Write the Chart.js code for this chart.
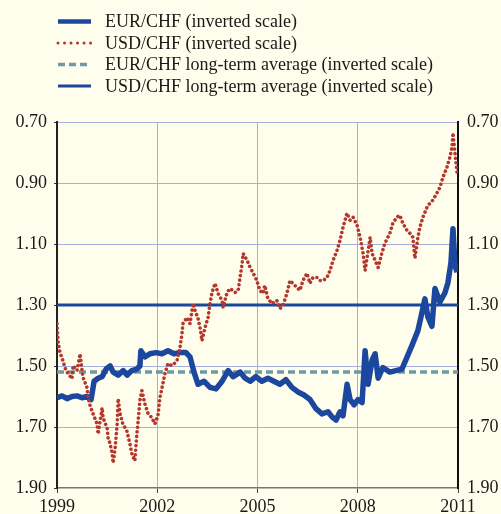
<!DOCTYPE html>
<html>
<head>
<meta charset="utf-8">
<script src="https://cdn.jsdelivr.net/npm/chart.js@4.4.1/dist/chart.umd.min.js"></script>
<style>
  html, body { margin: 0; padding: 0; background: #fffdeb; }
  canvas { display: block; }
</style>
</head>
<body>
<canvas id="fxChart" width="501" height="514"></canvas>
<script>
// EUR/CHF (decimal years)
const eurYears = [
  1999.00, 1999.15, 1999.30, 1999.45, 1999.60, 1999.75, 1999.90,
  2000.02, 2000.11, 2000.23, 2000.35, 2000.47, 2000.59, 2000.68, 2000.83, 2000.98,
  2001.10, 2001.24, 2001.39, 2001.48, 2001.51, 2001.63, 2001.78, 2001.96,
  2002.14, 2002.32, 2002.50, 2002.68, 2002.86, 2002.98,
  2003.10, 2003.22, 2003.40, 2003.58, 2003.76, 2003.94,
  2004.12, 2004.27, 2004.48, 2004.63, 2004.78, 2004.95,
  2005.13, 2005.31, 2005.49, 2005.67, 2005.85,
  2006.03, 2006.21, 2006.39, 2006.57, 2006.75, 2006.93,
  2007.11, 2007.23, 2007.35, 2007.47, 2007.56, 2007.68, 2007.77, 2007.89,
  2008.01, 2008.13, 2008.22, 2008.31, 2008.43, 2008.52, 2008.61, 2008.75, 2008.96,
  2009.14, 2009.32, 2009.44, 2009.62, 2009.80, 2009.92,
  2010.01, 2010.10, 2010.22, 2010.31, 2010.46, 2010.61, 2010.70, 2010.79, 2010.85, 2010.91, 2010.97
];
const eurRates = [
  1.604, 1.598, 1.607, 1.600, 1.598, 1.604, 1.600,
  1.610, 1.550, 1.540, 1.535, 1.510, 1.500, 1.520, 1.530, 1.515,
  1.530, 1.515, 1.510, 1.500, 1.450, 1.470, 1.460, 1.456,
  1.460, 1.450, 1.460, 1.456, 1.456, 1.470,
  1.520, 1.560, 1.550, 1.570, 1.575, 1.550,
  1.515, 1.535, 1.520, 1.540, 1.550, 1.535,
  1.550, 1.540, 1.550, 1.560, 1.545,
  1.570, 1.585, 1.595, 1.610, 1.640, 1.657,
  1.650, 1.667, 1.677, 1.650, 1.663, 1.560, 1.610, 1.627,
  1.610, 1.620, 1.450, 1.560, 1.480, 1.460, 1.540, 1.505, 1.520,
  1.515, 1.510, 1.480, 1.433, 1.384, 1.325,
  1.280, 1.340, 1.370, 1.246, 1.290, 1.260, 1.226, 1.160, 1.050, 1.170, 1.193
];

// USD/CHF
const usdYears = [
  1999.00, 1999.03, 1999.09, 1999.18, 1999.24, 1999.33, 1999.45, 1999.48, 1999.60, 1999.69, 1999.75, 1999.78, 1999.90, 1999.93, 1999.99,
  2000.08, 2000.20, 2000.23, 2000.35, 2000.38, 2000.50, 2000.53, 2000.59, 2000.65, 2000.68, 2000.74, 2000.80, 2000.83, 2000.89, 2000.97,
  2001.09, 2001.18, 2001.24, 2001.33, 2001.39, 2001.42, 2001.48, 2001.54, 2001.63, 2001.72, 2001.84, 2001.93,
  2002.02, 2002.08, 2002.17, 2002.23, 2002.32, 2002.44, 2002.59, 2002.68, 2002.74, 2002.77, 2002.89, 2002.98,
  2003.07, 2003.13, 2003.22, 2003.28, 2003.34, 2003.43, 2003.52, 2003.58, 2003.64, 2003.73, 2003.82, 2003.94, 2003.97,
  2004.09, 2004.18, 2004.33, 2004.42, 2004.54, 2004.57, 2004.69, 2004.78, 2004.86, 2004.98,
  2005.07, 2005.16, 2005.22, 2005.31, 2005.43, 2005.58, 2005.67, 2005.76, 2005.88, 2005.97,
  2006.06, 2006.18, 2006.27, 2006.36, 2006.48, 2006.57, 2006.66, 2006.78, 2006.87, 2006.96,
  2007.08, 2007.17, 2007.26, 2007.38, 2007.47, 2007.56, 2007.68, 2007.77, 2007.86, 2007.98,
  2008.07, 2008.16, 2008.22, 2008.28, 2008.37, 2008.43, 2008.52, 2008.61, 2008.72, 2008.81, 2008.96,
  2009.05, 2009.17, 2009.26, 2009.35, 2009.47, 2009.56, 2009.65, 2009.71, 2009.80, 2009.86, 2009.95,
  2010.07, 2010.16, 2010.25, 2010.37, 2010.46, 2010.55, 2010.67, 2010.76, 2010.82, 2010.85, 2010.91, 2010.97
];
const usdRates = [
  1.361, 1.417, 1.456, 1.483, 1.506, 1.525, 1.542, 1.499, 1.515, 1.460, 1.515, 1.538, 1.571, 1.604, 1.630,
  1.657, 1.690, 1.723, 1.637, 1.670, 1.703, 1.736, 1.755, 1.788, 1.818, 1.769, 1.690, 1.607, 1.657, 1.690,
  1.713, 1.755, 1.788, 1.811, 1.723, 1.690, 1.614, 1.581, 1.624, 1.654, 1.670, 1.690,
  1.663, 1.604, 1.558, 1.525, 1.492, 1.499, 1.483, 1.440, 1.394, 1.361, 1.341, 1.361,
  1.295, 1.318, 1.344, 1.374, 1.417, 1.374, 1.341, 1.295, 1.259, 1.229, 1.262, 1.285, 1.308,
  1.259, 1.246, 1.259, 1.252, 1.164, 1.131, 1.154, 1.177, 1.193, 1.220,
  1.252, 1.262, 1.236, 1.279, 1.295, 1.285, 1.312, 1.302, 1.262, 1.220,
  1.229, 1.243, 1.252, 1.220, 1.196, 1.229, 1.210, 1.210, 1.220, 1.220,
  1.210, 1.187, 1.154, 1.121, 1.088, 1.045, 0.999, 1.022, 1.012, 1.039,
  1.078, 1.131, 1.187, 1.144, 1.078, 1.131, 1.154, 1.177, 1.131, 1.098, 1.065,
  1.032, 1.012, 1.006, 1.032, 1.055, 1.065, 1.078, 1.147, 1.078, 1.045, 1.012,
  0.980, 0.966, 0.956, 0.933, 0.914, 0.881, 0.848, 0.815, 0.782, 0.736, 0.802, 0.864
];

const eurAverage = 1.52;
const usdAverage = 1.30;
const yearRange = [1999, 2011];
const xTicks = [1999, 2002, 2005, 2008, 2011];
const yTicks = [0.70, 0.90, 1.10, 1.30, 1.50, 1.70, 1.90];

const blue = "#1c479f";
const red = "#b5372c";
const teal = "#6b9aab";
const gridColor = "#a7afdd";
const textColor = "#1a1a1a";
const serif = "'Liberation Serif', 'Times New Roman', serif";

Chart.defaults.font.family = serif;
Chart.defaults.font.size = 18;
Chart.defaults.color = textColor;

const toPoints = (xs, ys) => xs.map((x, i) => ({ x: x, y: ys[i] }));
const flatLine = v => yearRange.map(x => ({ x: x, y: v }));

// legend drawn as a stacked list above the plot
const stackedLegend = {
  id: "stackedLegend",
  afterDraw(chart) {
    const ctx = chart.ctx;
    chart.data.datasets.forEach((ds, i) => {
      const y = 21.5 + i * 21.5;
      ctx.save();
      ctx.strokeStyle = ds.borderColor;
      ctx.lineWidth = ds.legendLineWidth || ds.borderWidth;
      ctx.lineCap = ds.borderCapStyle || "butt";
      ctx.setLineDash(ds.legendDash || ds.borderDash || []);
      ctx.beginPath();
      ctx.moveTo(58, y);
      ctx.lineTo(91, y);
      ctx.stroke();
      ctx.setLineDash([]);
      ctx.fillStyle = textColor;
      ctx.font = "18px " + serif;
      ctx.textBaseline = "middle";
      ctx.fillText(ds.label, 105, y + 1);
      ctx.restore();
    });
  }
};

new Chart(document.getElementById("fxChart"), {
  type: "line",
  data: {
    datasets: [
      {
        label: "EUR/CHF (inverted scale)",
        data: toPoints(eurYears, eurRates),
        borderColor: blue, borderWidth: 5.5, legendLineWidth: 4.5,
        borderJoinStyle: "round", pointRadius: 0, order: 1
      },
      {
        label: "USD/CHF (inverted scale)",
        data: toPoints(usdYears, usdRates),
        borderColor: red, borderWidth: 3.6, borderDash: [0.01, 4.6],
        legendLineWidth: 3, legendDash: [0.01, 6.5],
        borderCapStyle: "round", pointRadius: 0, order: 0
      },
      {
        label: "EUR/CHF long-term average (inverted scale)",
        data: flatLine(eurAverage),
        borderColor: teal, borderWidth: 3.5, borderDash: [7, 4],
        pointRadius: 0, order: 3
      },
      {
        label: "USD/CHF long-term average (inverted scale)",
        data: flatLine(usdAverage),
        borderColor: blue, borderWidth: 3, pointRadius: 0, order: 2
      }
    ]
  },
  options: {
    responsive: false,
    animation: false,
    events: [],
    layout: { padding: { top: 122, left: 0, right: 0, bottom: 0 } },
    plugins: { legend: { display: false }, tooltip: { enabled: false } },
    scales: {
      x: {
        type: "linear",
        min: yearRange[0], max: yearRange[1],
        afterBuildTicks: s => { s.ticks = xTicks.map(v => ({ value: v })); },
        afterFit: s => { s.height = 26; },
        ticks: { callback: v => String(v), padding: 3, maxRotation: 0 },
        grid: {
          color: c => (c.tick && (c.tick.value === 1999 || c.tick.value === 2011)) ? "rgba(0,0,0,0)" : gridColor,
          tickColor: "#444", tickLength: 5, lineWidth: 1
        },
        border: { color: "#777", width: 1.5 }
      },
      y: {
        type: "linear", position: "left", reverse: true,
        min: 0.7, max: 1.9,
        afterBuildTicks: s => { s.ticks = yTicks.map(v => ({ value: v })); },
        afterFit: s => { s.width = 57; },
        ticks: { callback: v => v.toFixed(2), padding: 7 },
        grid: {
          color: c => (c.tick && c.tick.value === 1.9) ? "rgba(0,0,0,0)" : gridColor,
          tickColor: "#333", tickLength: 3, lineWidth: 1
        },
        border: { color: "#222", width: 2 }
      },
      y2: {
        type: "linear", position: "right", reverse: true,
        min: 0.7, max: 1.9,
        afterBuildTicks: s => { s.ticks = yTicks.map(v => ({ value: v })); },
        afterFit: s => { s.width = 43; },
        ticks: { callback: v => v.toFixed(2), padding: 9 },
        grid: { drawOnChartArea: false, drawTicks: false },
        border: { color: "#111", width: 2 }
      }
    }
  },
  plugins: [stackedLegend]
});
</script>
</body>
</html>
